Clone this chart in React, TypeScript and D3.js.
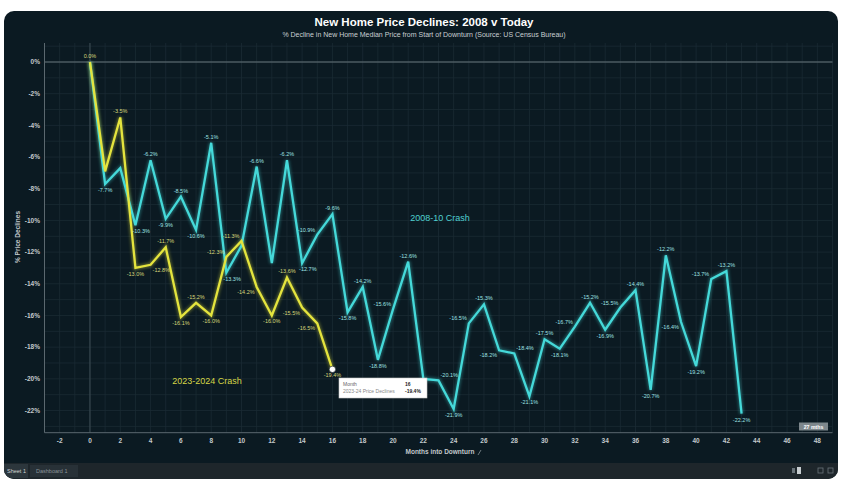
import React from 'react';
import * as d3 from 'd3';

const W = 848;
const H = 485;

const title = 'New Home Price Declines: 2008 v Today';
const subtitle = '% Decline in New Home Median Price from Start of Downturn (Source: US Census Bureau)';

// 2008-10 crash, % decline by month into downturn (month 0..43)
const crash2008 = [
  0, -7.7, -6.7, -10.3, -6.2, -9.9, -8.5, -10.6, -5.1, -13.3, -11.6, -6.6, -12.7, -6.2, -12.7, -10.9,
  -9.6, -15.8, -14.2, -18.8, -15.6, -12.6, -20.0, -20.1, -21.9, -16.5, -15.3, -18.2, -18.4, -21.1, -17.5,
  -18.1, -16.7, -15.2, -16.9, -15.5, -14.4, -20.7, -12.2, -16.4, -19.2, -13.7, -13.2, -22.2,
];
// 2023-24 crash, % decline by month into downturn (month 0..16)
const crash2023 = [
  0, -6.9, -3.5, -13.0, -12.8, -11.7, -16.1, -15.2, -16.0, -12.3, -11.3, -14.2, -16.0, -13.6, -15.5, -16.5, -19.4,
];

const xTicks = [-2, 0, 2, 4, 6, 8, 10, 12, 14, 16, 18, 20, 22, 24, 26, 28, 30, 32, 34, 36, 38, 40, 42, 44, 46, 48];
const yTicks = [0, -2, -4, -6, -8, -10, -12, -14, -16, -18, -20, -22];

const FONT = '"Liberation Sans", Arial, sans-serif';
const CYAN = '#45d9d9';
const YELLOW = '#e4e43e';
const LABEL_SIZE = 5.5;

type Box = { x0: number; x1: number; y0: number; y1: number };
type Lbl = { x: number; y: number; text: string; anchor: string; color: string };
type Seg = [number, number, number, number];

const charW: Record<string, number> = { '-': 0.333, '.': 0.278, '%': 0.889 };
const textWidth = (s: string, size: number) =>
  s.split('').reduce((a, c) => a + (charW[c] ?? 0.556), 0) * size;

function segHitsBox(s: Seg, b: Box) {
  const [x1, y1, x2, y2] = s;
  let t0 = 0, t1 = 1;
  const dx = x2 - x1, dy = y2 - y1;
  const p = [-dx, dx, -dy, dy];
  const q = [x1 - b.x0, b.x1 - x1, y1 - b.y0, b.y1 - y1];
  for (let i = 0; i < 4; i++) {
    if (p[i] === 0) {
      if (q[i] < 0) return false;
    } else {
      const r = q[i] / p[i];
      if (p[i] < 0) { if (r > t1) return false; if (r > t0) t0 = r; }
      else { if (r < t0) return false; if (r < t1) t1 = r; }
    }
  }
  return true;
}

export default function App() {
  const x = d3.scaleLinear().domain([-3, 49]).range([44.5, 832.5]);
  const y = d3.scaleLinear().domain([1.2, -23.4]).range([43, 432.7]);

  const line = d3
    .line<number>()
    .x((_, i) => x(i))
    .y((d) => y(d));

  const tipX = 339;
  const tipY = 378;

  const segs: Seg[] = [];
  [crash2008, crash2023].forEach((arr) => {
    for (let i = 0; i < arr.length - 1; i++) segs.push([x(i), y(arr[i]), x(i + 1), y(arr[i + 1])]);
  });

  const placed: Box[] = [{ x0: tipX + 5, x1: tipX + 88, y0: tipY - 4, y1: tipY + 20 }];
  const labels: Lbl[] = [];
  const pad = 1;
  const inset = 1.2;
  const overlaps = (b: Box) =>
    placed.some((p) => p.x0 - pad < b.x1 && b.x0 < p.x1 + pad && p.y0 - pad < b.y1 && b.y0 < p.y1 + pad) ||
    segs.some((s) => segHitsBox(s, { x0: b.x0 + inset, x1: b.x1 - inset, y0: b.y0, y1: b.y1 }));

  const addLabels = (arr: number[], color: string) => {
    arr.forEach((v, i) => {
      const px = x(i);
      const py = y(v);
      const prev = i > 0 ? arr[i - 1] : null;
      const next = i < arr.length - 1 ? arr[i + 1] : null;
      const text = v.toFixed(1) + '%';
      const w = textWidth(text, LABEL_SIZE);
      const above = { lx: px, ly: py - 4, anchor: 'middle' };
      const below = { lx: px, ly: py + 8, anchor: 'middle' };
      const belowRight = { lx: px - 3, ly: py + 8, anchor: 'start' };
      const upLeft = { lx: px - 2, ly: py - 3, anchor: 'end' };
      const downLeft = { lx: px - 2, ly: py + 7, anchor: 'end' };
      const upRight = { lx: px + 2, ly: py - 3, anchor: 'start' };
      const downRight = { lx: px + 2, ly: py + 7, anchor: 'start' };
      const left = { lx: px - 3, ly: py + 2, anchor: 'end' };
      let order;
      if (prev === null) order = [above];
      else if (next !== null && v >= prev && v >= next) order = [above, upLeft, left];
      else if (next === null || (v <= prev && v <= next)) order = [below, belowRight];
      else if (v > prev) order = [upLeft, downRight];
      else order = [downLeft, upRight];
      for (const c of order) {
        const x0 = c.anchor === 'end' ? c.lx - w : c.anchor === 'middle' ? c.lx - w / 2 : c.lx;
        const box = { x0, x1: x0 + w, y0: c.ly - 4.2, y1: c.ly + 0.6 };
        if (!overlaps(box)) {
          placed.push(box);
          labels.push({ x: c.lx, y: c.ly, text, anchor: c.anchor, color });
          break;
        }
      }
    });
  };
  addLabels(crash2023, '#d8d87a');
  addLabels(crash2008, '#9fe3e3');

  const minorX = d3.range(-3, 50, 1);
  const minorY = d3.range(1, -24, -1);

  return (
    <svg width={W} height={H} style={{ position: 'absolute', left: 0, top: 0, display: 'block' }} fontFamily={FONT}>
      <defs>
        <clipPath id="card">
          <rect x={4} y={11} width={834} height={468} rx={10} />
        </clipPath>
        <filter id="glow" x="-5%" y="-5%" width="110%" height="110%">
          <feGaussianBlur stdDeviation="1.8" />
        </filter>
      </defs>
      <rect x={0} y={0} width={W} height={H} fill="#ffffff" />
      <g clipPath="url(#card)">
        <rect x={4} y={11} width={834} height={468} fill="#0b1a22" />
        {/* tab bar */}
        <rect x={4} y={463} width={834} height={16} fill="#1e262b" />
        <rect x={4} y={464} width={24} height={14} fill="#2c363c" />
        <text x={7} y={473} fontSize={5.5} fill="#d0d4d6">Sheet 1</text>
        <rect x={30} y={465} width={48} height={12} fill="#283137" />
        <text x={36} y={473} fontSize={5.5} fill="#8a9399">Dashboard 1</text>
        <rect x={792} y={468} width={3} height={5} fill="#6a747a" />
        <rect x={797} y={467} width={4} height={7} fill="#c7cdd0" />
        <rect x={818} y={468} width={5} height={5} fill="none" stroke="#6a747a" strokeWidth={0.8} />
        <rect x={828} y={468} width={5} height={5} fill="none" stroke="#6a747a" strokeWidth={0.8} />
      </g>

      {/* titles */}
      <text x={424} y={26} textAnchor="middle" fontSize={11.5} fontWeight="bold" fill="#ffffff">{title}</text>
      <text x={424} y={37} textAnchor="middle" fontSize={7} fill="#c9cfd2">{subtitle}</text>

      {/* grid */}
      <g>
        {minorX.map((m) => (
          <line key={'gx' + m} x1={x(m)} x2={x(m)} y1={43} y2={432.7} stroke="#1a2b33" strokeWidth={0.8} />
        ))}
        {minorY.map((v) => (
          <line key={'gy' + v} x1={44.5} x2={832.5} y1={y(v)} y2={y(v)} stroke="#1a2b33" strokeWidth={0.8} />
        ))}
        <line x1={44.5} x2={832.5} y1={y(0)} y2={y(0)} stroke="#66747b" strokeWidth={1} />
        <line x1={x(0)} x2={x(0)} y1={43} y2={432.7} stroke="#3e4d55" strokeWidth={1} />
      </g>

      {/* axes */}
      <line x1={44.5} x2={44.5} y1={43} y2={432.7} stroke="#5b686f" strokeWidth={1} />
      <line x1={44.5} x2={832.5} y1={432.7} y2={432.7} stroke="#5b686f" strokeWidth={1} />
      {yTicks.map((t) => (
        <text key={'yt' + t} x={40} y={y(t) + 2.3} textAnchor="end" fontSize={6.5} fontWeight="bold" fill="#c3c9cc">
          {t + '%'}
        </text>
      ))}
      {xTicks.map((t) => (
        <text key={'xt' + t} x={x(t)} y={443} textAnchor="middle" fontSize={6.5} fontWeight="bold" fill="#c3c9cc">
          {t}
        </text>
      ))}
      <text x={440} y={454} textAnchor="middle" fontSize={6.5} fontWeight="bold" fill="#c3c9cc">Months into Downturn</text>
      <path d="M478,455 L481,450" stroke="#8a959b" strokeWidth={0.8} />
      <text transform="translate(20,237) rotate(-90)" textAnchor="middle" fontSize={6.5} fontWeight="bold" fill="#c3c9cc">
        % Price Declines
      </text>

      {/* lines with glow */}
      <path d={line(crash2008) || ''} fill="none" stroke={CYAN} strokeWidth={4.5} opacity={0.35} filter="url(#glow)" />
      <path d={line(crash2023) || ''} fill="none" stroke={YELLOW} strokeWidth={4.5} opacity={0.35} filter="url(#glow)" />
      <path d={line(crash2008) || ''} fill="none" stroke={CYAN} strokeWidth={2.3} strokeLinejoin="miter" />
      <path d={line(crash2023) || ''} fill="none" stroke={YELLOW} strokeWidth={2.3} strokeLinejoin="miter" />

      {/* data labels */}
      {labels.map((l, i) => (
        <text key={'l' + i} x={l.x} y={l.y} textAnchor={l.anchor} fontSize={LABEL_SIZE} fill={l.color}>
          {l.text}
        </text>
      ))}

      {/* annotations */}
      <text x={440} y={221} textAnchor="middle" fontSize={9} fill="#4fd0d0">2008-10 Crash</text>
      <text x={207} y={384} textAnchor="middle" fontSize={9} fill="#d6d646">2023-2024 Crash</text>

      {/* 27 mths badge */}
      <rect x={799} y={422.5} width={29} height={8} fill="#7d878c" />
      <text x={813.5} y={428.6} textAnchor="middle" fontSize={5.2} fontWeight="bold" fill="#ffffff">27 mths</text>

      {/* hover marker + tooltip */}
      <circle cx={x(16)} cy={y(crash2023[16])} r={3.2} fill="#ffffff" stroke="#0b1a22" strokeWidth={0.6} />
      <rect x={tipX} y={tipY} width={88} height={20} fill="#ffffff" stroke="#c8c8c8" strokeWidth={0.6} />
      <text x={tipX + 4} y={tipY + 7.5} fontSize={5} fill="#666">Month</text>
      <text x={tipX + 66} y={tipY + 7.5} fontSize={5} fontWeight="bold" fill="#222">16</text>
      <text x={tipX + 4} y={tipY + 15} fontSize={5} fill="#888">2023-24 Price Declines</text>
      <text x={tipX + 66} y={tipY + 15} fontSize={5} fontWeight="bold" fill="#222">
        {crash2023[16].toFixed(1) + '%'}
      </text>
    </svg>
  );
}
